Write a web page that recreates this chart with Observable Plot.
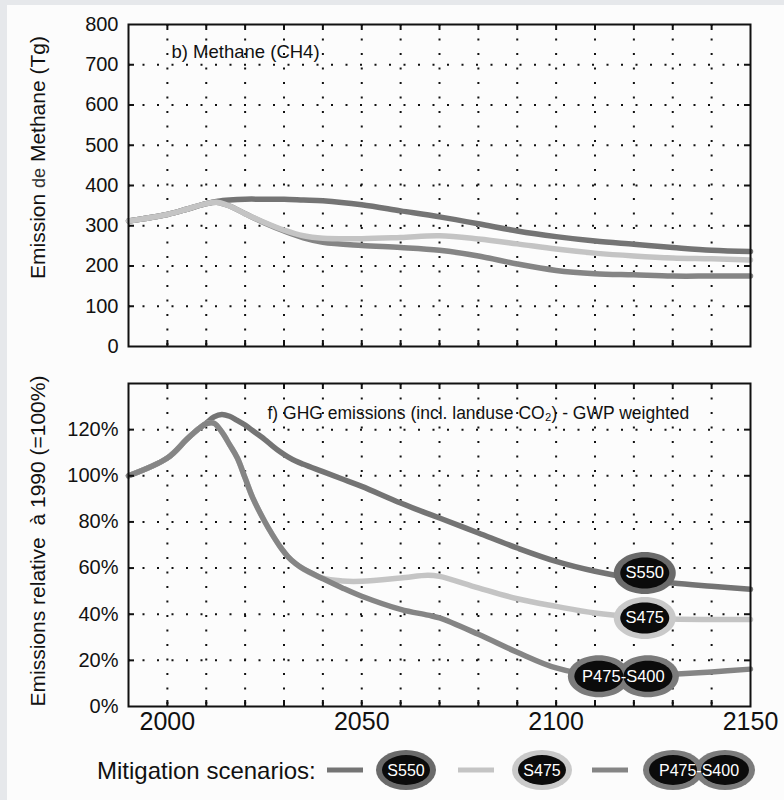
<!DOCTYPE html>
<html><head><meta charset="utf-8">
<script src="https://cdn.jsdelivr.net/npm/d3@7"></script>
<script src="https://cdn.jsdelivr.net/npm/@observablehq/plot@0.6"></script>
<style>
body{margin:0;background:#e6e8eb;font-family:"Liberation Sans",Arial,sans-serif;}
#page{position:absolute;left:7px;top:5px;width:777px;height:795px;background:#fcfcfc;}
#top,#bottom,#legend{position:absolute;left:0;}
#top{top:0}#bottom{top:360px}#legend{top:740px}
</style></head><body>
<div id="page"></div><div id="top"></div><div id="bottom"></div><div id="legend"></div>
<script>
// ---------- data ----------
const scenarios = ["S550", "S475", "P475-S400"];
const scenarioColors = ["#747474", "#c4c4c4", "#858585"];
const haloColors = ["#6a6a6a", "#c9c9c9", "#7b7b7b"];

const ch4Years = [1990, 2000, 2005, 2010, 2013, 2016, 2020, 2025, 2030, 2035, 2040, 2050, 2060, 2070, 2080, 2090, 2100, 2110, 2120, 2130, 2140, 2150];
const ch4S550 = [312, 328, 341, 355, 361, 364, 366, 366, 366, 364, 362, 352, 337, 322, 305, 287, 273, 262, 254, 246, 239, 236];
const ch4S475 = [312, 328, 341, 355, 358, 349, 330, 308, 289, 275, 269, 268, 271, 275, 267, 255, 242, 232, 225, 220, 218, 215];
const ch4P475 = [312, 328, 341, 355, 358, 349, 330, 307, 287, 270, 259, 251, 246, 239, 225, 205, 189, 181, 178, 175, 175, 175];

const ghgYears = [1990, 2000, 2005, 2008, 2010, 2012, 2014, 2016, 2018, 2020, 2022, 2025, 2027, 2029, 2031, 2033, 2035, 2040, 2045, 2050, 2060, 2067, 2070, 2080, 2090, 2100, 2110, 2120, 2130, 2140, 2150];
const ghgS550 = [100, 107.7, 115.8, 120.3, 122.8, 125.5, 126.6, 125.8, 124, 122, 119.5, 115.8, 113, 110.4, 108.2, 106.4, 105, 101.8, 98.6, 95.4, 88.2, 83.6, 81.7, 75.2, 68.7, 62.9, 58.6, 55.5, 53.5, 52.1, 50.8];
const ghgS475 = [100, 107.7, 115.8, 120.3, 122.6, 122.8, 119, 113.5, 107.7, 99, 90.3, 80.3, 74.5, 69.3, 65, 61.9, 59.6, 55.6, 54.4, 54.3, 55.7, 56.9, 56.4, 51.4, 46.7, 43.4, 40.5, 38.8, 37.9, 37.7, 37.7];
const ghgP475 = [100, 107.7, 115.8, 120.3, 122.6, 122.8, 119, 113.5, 107.7, 99, 90.3, 80.3, 74.5, 69.3, 65, 61.9, 59.6, 55.4, 51.4, 47.8, 42.1, 39.6, 38.4, 31.3, 23.5, 16.7, 13.5, 13.2, 14, 15, 16.2];

// scenario labels on the lower panel (year, value)
const labelNames = ["S550", "S475", "P475-S400", "P475-S400"];
const labelYears = [2122.8, 2122.8, 2111, 2123.6];
const labelValues = [57.9, 38.4, 13.1, 13.1];
const labelTextNames = ["S550", "S475", "P475-S400"];
const labelTextYears = [2122.8, 2122.8, 2117.3];
const labelTextValues = [57.9, 38.4, 13.1];

const ch4Ticks = [0, 100, 200, 300, 400, 500, 600, 700, 800];
const ghgTicks = [0, 20, 40, 60, 80, 100, 120];
const yearTicks = [2000, 2050, 2100, 2150];
const yearGrid = [2000, 2010, 2020, 2030, 2040, 2050, 2060, 2070, 2080, 2090, 2100, 2110, 2120, 2130, 2140];

const topTitle = "b) Methane (CH4)";
const bottomTitle = "f) GHG emissions (incl. landuse CO\u2082) - GWP weighted";
const topYLabel = "Emission de Methane (Tg)";
const bottomYLabel = "Emissions relative  \u00e0 1990 (=100%)";
const legendTitle = "Mitigation scenarios:";

// ---------- helpers ----------
const font = "Liberation Sans, Arial, Helvetica, sans-serif";
const ink = "#111";
const tidy = (years, arr, name) => years.map((y, i) => ({year: y, value: arr[i], name}));
function ellipse(rx, ry) {
  const k = 0.5523;
  return {draw(c) {
    c.moveTo(rx, 0);
    c.bezierCurveTo(rx, ry * k, rx * k, ry, 0, ry);
    c.bezierCurveTo(-rx * k, ry, -rx, ry * k, -rx, 0);
    c.bezierCurveTo(-rx, -ry * k, -rx * k, -ry, 0, -ry);
    c.bezierCurveTo(rx * k, -ry, rx, -ry * k, rx, 0);
    c.closePath();
  }};
}
const W = 784, ML = 128, MR = 34;
const innerW = W - ML - MR;

function gridMarks(yGrid) {
  return [
    Plot.gridX(yearGrid, {x: d => d, stroke: ink, strokeOpacity: 1, strokeWidth: 2, strokeDasharray: "2,12.5"}),
    Plot.gridY(yGrid, {y: d => d, stroke: ink, strokeOpacity: 1, strokeWidth: 2, strokeDasharray: "2,12.5"}),
  ];
}
function edgeTicks(yGrid, innerH) {
  return [
    Plot.frame({stroke: ink, strokeWidth: 2}),
    Plot.tickX(yearGrid, {x: d => d, stroke: ink, strokeWidth: 2, insetTop: innerH - 6}),
    Plot.tickX(yearGrid, {x: d => d, stroke: ink, strokeWidth: 2, insetBottom: innerH - 6}),
    Plot.tickY(yGrid, {y: d => d, stroke: ink, strokeWidth: 2, insetRight: innerW - 6}),
    Plot.tickY(yGrid, {y: d => d, stroke: ink, strokeWidth: 2, insetLeft: innerW - 6}),
  ];
}
const colorScale = {domain: scenarios, range: scenarioColors};

// ---------- top: methane ----------
{
  const H = 360, MT = 24, MB = 14, innerH = H - MT - MB;
  const grid = ch4Ticks.filter(d => d > 0 && d < 800);
  const lines = [
    ...tidy(ch4Years, ch4S550, "S550"),
    ...tidy(ch4Years, ch4P475, "P475-S400"),
    ...tidy(ch4Years, ch4S475, "S475"),
  ];
  const chart = Plot.plot({
    width: W, height: H, marginLeft: ML, marginRight: MR, marginTop: MT, marginBottom: MB,
    style: {fontFamily: font, background: "transparent", color: ink},
    x: {domain: [1990, 2150], axis: null},
    y: {domain: [0, 800]},
    color: colorScale,
    marks: [
      ...gridMarks(grid),
      Plot.line(lines, {x: "year", y: "value", z: "name", stroke: "name", strokeWidth: 5.5, curve: "catmull-rom"}),
      ...edgeTicks(grid, innerH),
      Plot.axisY(ch4Ticks, {label: null, tickSize: 0, tickPadding: 10, fontSize: 20, tickFormat: d => String(d)}),
      Plot.text([topTitle], {frameAnchor: "top-left", dx: 43, dy: 28, fontSize: 18.5, textAnchor: "start", lineAnchor: "middle", fill: ink}),
      Plot.text([topYLabel], {frameAnchor: "left", rotate: -90, dx: -90, dy: -28, fontSize: 21, textAnchor: "middle", lineAnchor: "middle", fill: ink}),
    ]
  });
  // the "de" in the reference label is set in a lighter, smaller face
  d3.select(chart).selectAll("text").filter(function() { return this.textContent === topYLabel; })
    .each(function() {
      const t = d3.select(this);
      const [a, b] = topYLabel.split(" de ");
      t.text(null);
      t.append("tspan").text(a + " ");
      t.append("tspan").attr("font-size", 18).attr("fill", "#333").text("de");
      t.append("tspan").text(" " + b);
    });
  document.getElementById("top").appendChild(chart);
}

// ---------- bottom: GHG ----------
{
  const H = 380, MT = 23, MB = 34, innerH = H - MT - MB;
  const grid = [20, 40, 60, 80, 100, 120];
  const lines = [
    ...tidy(ghgYears, ghgS550, "S550"),
    ...tidy(ghgYears, ghgS475, "S475"),
    ...tidy(ghgYears, ghgP475, "P475-S400"),
  ];
  const dots = labelNames.map((n, i) => ({name: n, year: labelYears[i], value: labelValues[i]}));
  const texts = labelTextNames.map((n, i) => ({name: n, year: labelTextYears[i], value: labelTextValues[i]}));
  const haloScale = d3.scaleOrdinal(scenarios, haloColors);
  const chart = Plot.plot({
    width: W, height: H, marginLeft: ML, marginRight: MR, marginTop: MT, marginBottom: MB,
    style: {fontFamily: font, background: "transparent", color: ink},
    x: {domain: [1990, 2150]},
    y: {domain: [0, 140]},
    color: colorScale,
    marks: [
      ...gridMarks(grid),
      Plot.line(lines, {x: "year", y: "value", z: "name", stroke: "name", strokeWidth: 5.5, curve: "catmull-rom"}),
      Plot.dot(dots, {x: "year", y: "value", symbol: ellipse(31, 21), fill: d => haloScale(d.name), stroke: "none"}),
      Plot.dot(dots, {x: "year", y: "value", symbol: ellipse(24.5, 15.5), fill: "#0b0b0b", stroke: "none"}),
      Plot.text(texts, {x: "year", y: "value", text: "name", fill: "white", fontSize: 16.5}),
      ...edgeTicks(grid, innerH),
      Plot.axisY(ghgTicks, {label: null, tickSize: 0, tickPadding: 10, fontSize: 20, tickFormat: d => d + "%"}),
      Plot.axisX(yearTicks, {label: null, tickSize: 0, tickPadding: 6, fontSize: 25, tickFormat: d => String(d)}),
      Plot.text([bottomTitle], {frameAnchor: "top-left", dx: 139, dy: 30, fontSize: 17.5, textAnchor: "start", lineAnchor: "middle", fill: ink}),
      Plot.text([bottomYLabel], {frameAnchor: "left", rotate: -90, dx: -90, dy: -4, fontSize: 21, textAnchor: "middle", lineAnchor: "middle", fill: ink}),
    ]
  });
  document.getElementById("bottom").appendChild(chart);
}

// ---------- legend ----------
{
  const ns = "http://www.w3.org/2000/svg";
  const svg = document.createElementNS(ns, "svg");
  svg.setAttribute("width", W); svg.setAttribute("height", 60);
  svg.style.fontFamily = font;
  const add = (tag, attrs, text) => {
    const el = document.createElementNS(ns, tag);
    for (const k in attrs) el.setAttribute(k, attrs[k]);
    if (text) el.textContent = text;
    svg.appendChild(el); return el;
  };
  const cy = 30;
  add("text", {x: 97, y: cy, "dominant-baseline": "central", "font-size": 24, fill: ink}, legendTitle);
  const items = [
    {sw: 327, centers: [406], tx: 406},
    {sw: 458, centers: [542], tx: 542},
    {sw: 592, centers: [673, 725], tx: 699},
  ];
  items.forEach((it, i) => {
    add("line", {x1: it.sw, x2: it.sw + 36, y1: cy, y2: cy, stroke: scenarioColors[i], "stroke-width": 5});
    it.centers.forEach(c => add("ellipse", {cx: c, cy, rx: 30, ry: 20, fill: haloColors[i]}));
    it.centers.forEach(c => add("ellipse", {cx: c, cy, rx: 24, ry: 15, fill: "#0b0b0b"}));
    add("text", {x: it.tx, y: cy, "text-anchor": "middle", "dominant-baseline": "central", "font-size": 16, fill: "white"}, scenarios[i]);
  });
  document.getElementById("legend").appendChild(svg);
}
</script></body></html>
